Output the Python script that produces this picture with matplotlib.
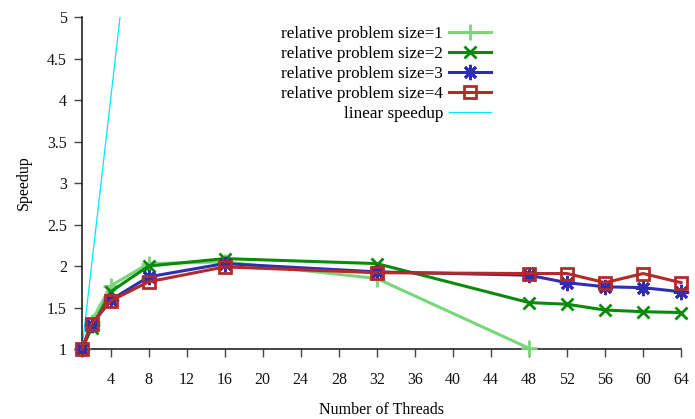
import matplotlib
matplotlib.use("Agg")
import matplotlib.pyplot as plt

threads = [1, 2, 4, 8, 16, 32, 48, 52, 56, 60, 64]
threads_size1 = [1, 2, 4, 8, 16, 32, 48]

speedup_size1 = [1.0, 1.33, 1.76, 2.03, 2.05, 1.85, 1.01]
speedup_size2 = [1.0, 1.25, 1.69, 2.00, 2.09, 2.03, 1.56, 1.54, 1.47, 1.45, 1.44]
speedup_size3 = [1.0, 1.29, 1.59, 1.87, 2.03, 1.93, 1.89, 1.80, 1.75, 1.74, 1.69]
speedup_size4 = [1.0, 1.30, 1.58, 1.81, 1.99, 1.92, 1.91, 1.91, 1.80, 1.91, 1.80]

linear_x = [1, 64]
linear_y = [1, 64]

x_ticks = list(range(4, 65, 4))
y_ticks = [1, 1.5, 2, 2.5, 3, 3.5, 4, 4.5, 5]
y_tick_labels = ["1", "1.5", "2", "2.5", "3", "3.5", "4", "4.5", "5"]

plt.rcParams["font.family"] = ["Liberation Serif", "DejaVu Serif"]
plt.rcParams["font.size"] = 11.5

fig = plt.figure(figsize=(6.95, 4.19), dpi=100)
ax = fig.add_axes([0.118, 0.167, 0.862, 0.792])

c1 = "#7ad67a"
c2 = "#0a8a0a"
c3 = "#2e2eb4"
c4 = "#b22a2a"

ax.plot(threads_size1, speedup_size1, color=c1, lw=2.2, marker="+", ms=12,
        mew=2.0, label="relative problem size=1", clip_on=False, zorder=3)
ax.plot(threads, speedup_size2, color=c2, lw=2.2, marker="x", ms=9,
        mew=2.0, label="relative problem size=2", clip_on=False, zorder=3)
ax.plot(threads, speedup_size3, color=c3, lw=2.2, marker=(8, 2, 0), ms=11,
        mew=2.0, label="relative problem size=3", clip_on=False, zorder=3)
ax.plot(threads, speedup_size4, color=c4, lw=2.2, marker="s", ms=8.5,
        mew=2.0, mfc="none", label="relative problem size=4", clip_on=False, zorder=3)
ax.plot(linear_x, linear_y, color="#00e8ff", lw=0.9, label="linear speedup", zorder=2)

ax.set_xlim(1, 64)
ax.set_ylim(1, 5)
ax.set_xticks(x_ticks)
ax.set_yticks(y_ticks)
ax.set_yticklabels(y_tick_labels)

for side in ("top", "right"):
    ax.spines[side].set_visible(False)
for side in ("left", "bottom"):
    ax.spines[side].set_color("#222222")
    ax.spines[side].set_linewidth(1.2)

ax.tick_params(axis="both", direction="out", length=5.8, width=1.0,
               color="#444444", labelcolor="#111111")
ax.tick_params(axis="x", pad=11)
ax.tick_params(axis="y", pad=5)

ax.set_xlabel("Number of Threads", labelpad=10)
ax.set_ylabel("Speedup", labelpad=11)

ax.legend(loc="upper right", bbox_to_anchor=(0.694, 0.994), frameon=False,
          markerfirst=False, fontsize=12.3, handlelength=2.45, labelspacing=0.23,
          handletextpad=0.35, borderaxespad=0)

fig.savefig("out.png", dpi=100)
